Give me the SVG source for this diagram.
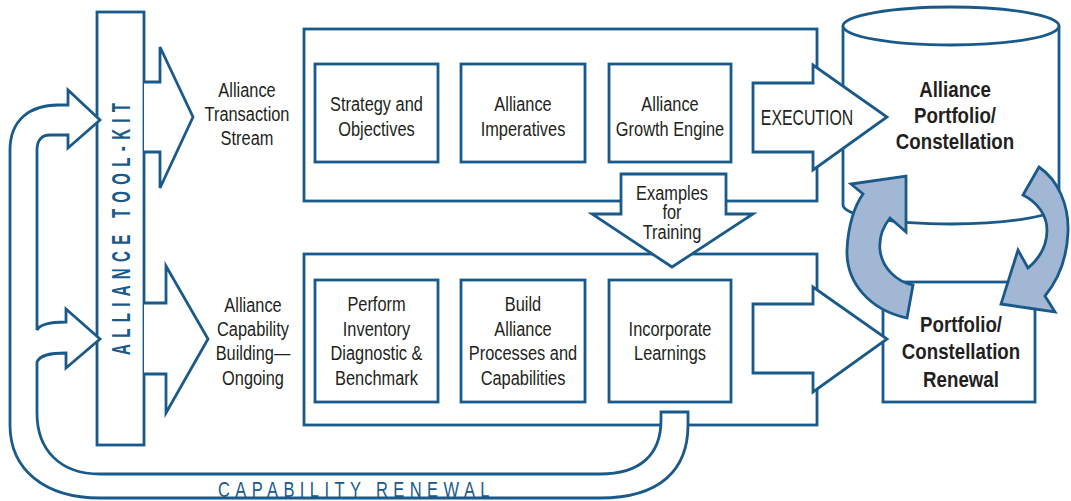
<svg xmlns="http://www.w3.org/2000/svg" width="1071" height="501" viewBox="0 0 1071 501">
<style>
.ln{fill:#fff;stroke:#1a5a8a;stroke-width:2.8;stroke-linejoin:miter}
.open{fill:#fff;stroke:#1a5a8a;stroke-width:2.8}
.circ{fill:#a2b7d3;stroke:#1a5a8a;stroke-width:2.8;stroke-linejoin:miter}
.t{font-family:"Liberation Sans",Arial,sans-serif;font-size:21px;fill:#231f20;text-anchor:middle}
.b{font-family:"Liberation Sans",Arial,sans-serif;font-size:22px;font-weight:bold;fill:#231f20;text-anchor:middle}
.kit{font-family:"Liberation Sans",Arial,sans-serif;font-size:25px;font-weight:bold;fill:#1a5a8a}
.cap{font-family:"Liberation Sans",Arial,sans-serif;font-size:22px;fill:#1a5a8a}
</style>
<rect width="1071" height="501" fill="#fff"/>

<g id="toolkit">
<rect class="ln" x="97" y="12" width="47" height="433"/>
<text class="kit" transform="translate(130,355) rotate(-90) scale(0.6,1)" textLength="420" lengthAdjust="spacing">ALLIANCE TOOL-KIT</text>
</g>

<g id="transaction-stream-top">
<rect class="ln" x="304" y="29" width="513" height="172"/>
</g>
<g id="capability-building-box">
<rect class="ln" x="304" y="254" width="513" height="171"/>
</g>

<g id="strategy">
<rect class="ln" x="315" y="64" width="123" height="98"/>
<text class="t" transform="matrix(0.78,0,0,1,376.5,111)">Strategy and</text>
<text class="t" transform="matrix(0.78,0,0,1,376.5,136)">Objectives</text>
</g>
<g id="imperatives">
<rect class="ln" x="461" y="64" width="124" height="98"/>
<text class="t" transform="matrix(0.78,0,0,1,523,111)">Alliance</text>
<text class="t" transform="matrix(0.78,0,0,1,523,136)">Imperatives</text>
</g>
<g id="growth-engine">
<rect class="ln" x="609" y="64" width="122" height="98"/>
<text class="t" transform="matrix(0.78,0,0,1,670,111)">Alliance</text>
<text class="t" transform="matrix(0.78,0,0,1,670,136)">Growth Engine</text>
</g>

<g id="inventory">
<rect class="ln" x="315" y="280" width="123" height="122"/>
<text class="t" transform="matrix(0.78,0,0,1,376.5,311)">Perform</text>
<text class="t" transform="matrix(0.78,0,0,1,376.5,336)">Inventory</text>
<text class="t" transform="matrix(0.78,0,0,1,376.5,360)">Diagnostic &amp;</text>
<text class="t" transform="matrix(0.78,0,0,1,376.5,385)">Benchmark</text>
</g>
<g id="processes">
<rect class="ln" x="461" y="280" width="124" height="122"/>
<text class="t" transform="matrix(0.78,0,0,1,523,311)">Build</text>
<text class="t" transform="matrix(0.78,0,0,1,523,336)">Alliance</text>
<text class="t" transform="matrix(0.78,0,0,1,523,360)">Processes and</text>
<text class="t" transform="matrix(0.78,0,0,1,523,385)">Capabilities</text>
</g>
<g id="learnings">
<rect class="ln" x="609" y="280" width="122" height="122"/>
<text class="t" transform="matrix(0.78,0,0,1,670,336)">Incorporate</text>
<text class="t" transform="matrix(0.78,0,0,1,670,360)">Learnings</text>
</g>

<g id="portfolio">
<path class="ln" d="M843,26 L843,205 A108,19 0 0 0 1059,205 L1059,26"/>
<ellipse class="ln" cx="951" cy="26" rx="108" ry="19"/>
<text class="b" transform="matrix(0.85,0,0,1,955,97)">Alliance</text>
<text class="b" transform="matrix(0.85,0,0,1,955,123)">Portfolio/</text>
<text class="b" transform="matrix(0.85,0,0,1,955,149)">Constellation</text>
</g>

<g id="renewal">
<rect class="ln" x="883" y="282" width="152" height="120"/>
<text class="b" transform="matrix(0.85,0,0,1,961,332)">Portfolio/</text>
<text class="b" transform="matrix(0.85,0,0,1,961,359)">Constellation</text>
<text class="b" transform="matrix(0.85,0,0,1,961,387)">Renewal</text>
</g>

<g id="connectors">
<path class="open" d="M144,82 L160,82 L160,47 L193,117 L160,188 L160,152 L144,152"/>
<path class="open" d="M144,303 L166,303 L166,266 L208,339 L166,413 L166,374 L144,374"/>
<path class="ln" d="M753,83 L813,83 L813,65 L887,117 L813,170 L813,152 L753,152 Z"/>
<path class="ln" d="M753,304 L813,304 L813,287 L887,339 L813,392 L813,373 L753,373 Z"/>
<path class="ln" d="M621,174 L726,174 L726,214 L753,214 L672,267 L592,214 L621,214 Z"/>
<path class="ln" d="M661,412 L688,412 L688,425 C688,470 660,498 600,498 L100,498 C45,498 10,470 10,425 L10,150 C10,120 30,105 58,105 L68,105 L68,90 L100,120 L68,148 L68,135 L50,135 C42,135 37,140 37,150 L37,330 C40,324 52,322 66,322 L66,309 L100,339 L66,368 L66,353 C50,353 40,355 37,362 L37,413 C37,450 60,474 100,474 L600,474 C640,474 661,455 661,420 Z"/>
</g>

<g id="labels">
<text class="t" transform="matrix(0.78,0,0,1,247,97)">Alliance</text>
<text class="t" transform="matrix(0.78,0,0,1,247,121)">Transaction</text>
<text class="t" transform="matrix(0.78,0,0,1,247,145)">Stream</text>
<text class="t" transform="matrix(0.78,0,0,1,253,312)">Alliance</text>
<text class="t" transform="matrix(0.78,0,0,1,253,336)">Capability</text>
<text class="t" transform="matrix(0.78,0,0,1,253,360)">Building—</text>
<text class="t" transform="matrix(0.78,0,0,1,253,385)">Ongoing</text>
<text class="t" style="font-size:22px" transform="matrix(0.72,0,0,1,807,125)">EXECUTION</text>
<text class="t" transform="matrix(0.78,0,0,1,672,200)">Examples</text>
<text class="t" transform="matrix(0.78,0,0,1,672,219)">for</text>
<text class="t" transform="matrix(0.78,0,0,1,672,239)">Training</text>
<text class="cap" transform="matrix(0.75,0,0,1,218,497)" textLength="362" lengthAdjust="spacing">CAPABILITY RENEWAL</text>
</g>

<g id="cycle">
<path class="circ" d="M907,318 C870,310 846,283 847,250 C848,225 855,205 863,194 L851,184 L906,176 L906,232 L890,218 C882,228 879,240 880,250 C882,268 897,282 913,285 Z"/>
<path class="circ" d="M1039,167 C1058,180 1069,205 1068,232 C1067,258 1058,280 1045,296 L1055,312 L1001,304 L1018,250 L1028,268 C1040,258 1047,245 1047,230 C1047,215 1037,202 1023,195 Z"/>
</g>
</svg>
